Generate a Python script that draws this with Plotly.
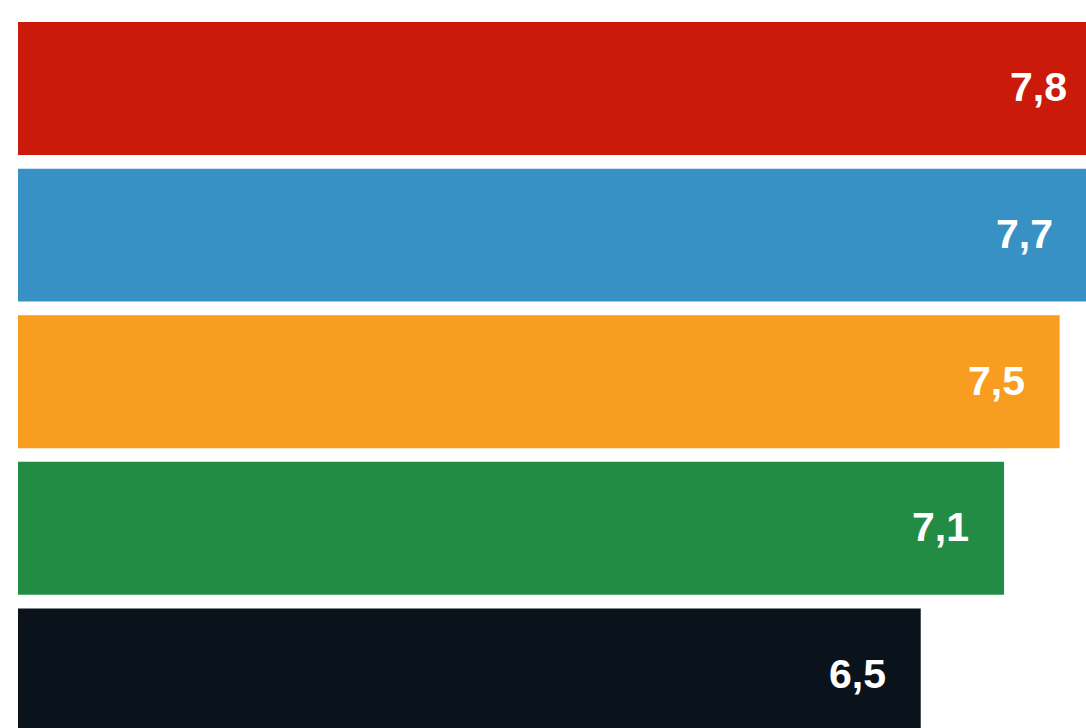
import plotly.graph_objects as go

categories = ["A", "B", "C", "D", "E"]
values = [7.8, 7.7, 7.5, 7.1, 6.5]
labels = ["7,8", "7,7", "7,5", "7,1", "6,5"]
colors = ["#cc1a0a", "#3891c4", "#f99d20", "#228c45", "#0a131c"]

ypos = list(range(len(categories)))
label_pad = 0.235  # in axis units, space between label end and bar end

fig = go.Figure()
fig.add_trace(go.Bar(
    x=values, y=ypos, orientation="h",
    marker=dict(color=colors, line=dict(width=0)),
    width=0.907, hoverinfo="skip",
))
for v, yy, lab in zip(values, ypos, labels):
    fig.add_annotation(
        x=v - label_pad, y=yy - 0.008, text=lab, showarrow=False,
        xanchor="right", yanchor="middle",
        font=dict(family="Liberation Sans, Arial, sans-serif", size=41,
                  color="white", weight="bold"),
    )
fig.update_layout(
    width=1086, height=728,
    margin=dict(l=18, r=0, t=0, b=0),
    paper_bgcolor="white", plot_bgcolor="white",
    showlegend=False,
    xaxis=dict(range=[0, 7.69], visible=False, fixedrange=True),
    yaxis=dict(range=[4.362, -0.604], visible=False, fixedrange=True),
)
fig.write_html("out.html", config={"displayModeBar": False},
               post_script="document.body.style.margin='0';")
